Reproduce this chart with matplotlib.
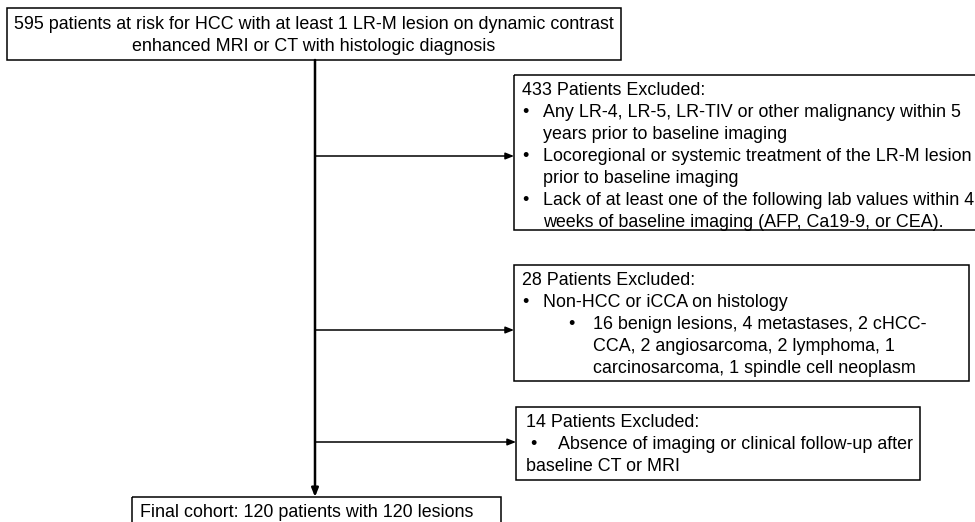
import matplotlib.pyplot as plt
from matplotlib.patches import Rectangle

plt.rcParams['font.family'] = ['Liberation Sans', 'DejaVu Sans']

# flowchart content
start_lines = ["595 patients at risk for HCC with at least 1 LR-M lesion on dynamic contrast",
               "enhanced MRI or CT with histologic diagnosis"]
excluded_n = [433, 28, 14]
excl_a = [("head", "433 Patients Excluded:"),
          ("b1", "Any LR-4, LR-5, LR-TIV or other malignancy within 5"),
          ("c1", "years prior to baseline imaging"),
          ("b1", "Locoregional or systemic treatment of the LR-M lesion"),
          ("c1", "prior to baseline imaging"),
          ("b1", "Lack of at least one of the following lab values within 4"),
          ("c1", "weeks of baseline imaging (AFP, Ca19-9, or CEA).")]
excl_b = [("head", "28 Patients Excluded:"),
          ("b1", "Non-HCC or iCCA on histology"),
          ("b2", "16 benign lesions, 4 metastases, 2 cHCC-"),
          ("c2", "CCA, 2 angiosarcoma, 2 lymphoma, 1"),
          ("c2", "carcinosarcoma, 1 spindle cell neoplasm")]
excl_c = [("head", "14 Patients Excluded:"),
          ("b1", "Absence of imaging or clinical follow-up after"),
          ("head", "baseline CT or MRI")]
final_text = "Final cohort: 120 patients with 120 lesions"

FS = 12.9
LH = 22

fig = plt.figure(figsize=(9.75, 5.22), dpi=100)
ax = fig.add_axes([0, 0, 1, 1])
ax.set_xlim(0, 975)
ax.set_ylim(522, 0)
ax.axis('off')


def box(x0, y0, x1, y1):
    ax.add_patch(Rectangle((x0, y0), x1 - x0, y1 - y0, fill=False,
                           edgecolor='black', linewidth=1.1, zorder=2))


def arrow(x0, y0, x1, y1, lw=1.1):
    ax.annotate("", xy=(x1, y1), xytext=(x0, y0),
                arrowprops=dict(arrowstyle='-|>,head_length=0.5,head_width=0.2',
                                color='black', lw=lw, shrinkA=0, shrinkB=0))


def write(x, yc, s):
    ax.text(x, yc + 6, s, fontsize=FS, ha='left', va='baseline', color='black')


def excl_box(x0, y0, x1, y1, rows, xs):
    box(x0, y0, x1, y1)
    for i, (kind, s) in enumerate(rows):
        yc = y0 + 14 + i * LH
        if kind == "head":
            write(xs['head'], yc, s)
        elif kind == "b1":
            write(xs['bul1'], yc, "\u2022")
            write(xs['txt1'], yc, s)
        elif kind == "c1":
            write(xs['txt1'], yc, s)
        elif kind == "b2":
            write(xs['bul2'], yc, "\u2022")
            write(xs['txt2'], yc, s)
        else:
            write(xs['txt2'], yc, s)


# top box
box(7, 8, 621, 60)
for i, s in enumerate(start_lines):
    ax.text(314, 23 + i * LH + 6, s, fontsize=FS, ha='center', va='baseline')

# main vertical line
arrow(315, 60, 315, 497, lw=1.8)

xs_ab = dict(head=522, bul1=522, txt1=543, bul2=568, txt2=593)
excl_box(514, 75, 985, 230, excl_a, xs_ab)
arrow(315, 156, 514, 156)

excl_box(514, 265, 969, 381, excl_b, xs_ab)
arrow(315, 330, 514, 330)

xs_c = dict(head=526, bul1=530, txt1=558)
excl_box(516, 407, 920, 480, excl_c, xs_c)
arrow(315, 442, 516, 442)

# final box
box(132, 497, 501, 540)
write(140, 511, final_text)

fig.savefig("out.png", dpi=100)
